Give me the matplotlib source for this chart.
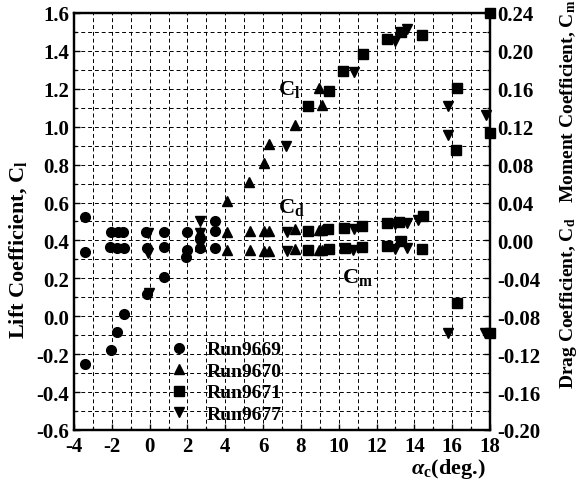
import numpy as np
import matplotlib
matplotlib.use('Agg')
import matplotlib.pyplot as plt
from matplotlib.ticker import MultipleLocator, FuncFormatter

plt.rcParams['font.family'] = ['Liberation Serif', 'DejaVu Serif']
plt.rcParams['font.weight'] = 'bold'
plt.rcParams['axes.unicode_minus'] = False
plt.rcParams['mathtext.fontset'] = 'custom'
plt.rcParams['mathtext.rm'] = 'Liberation Serif:bold'
plt.rcParams['mathtext.it'] = 'Liberation Serif:italic:bold'
plt.rcParams['mathtext.bf'] = 'Liberation Serif:bold'

# Run9669 (circles)
a9669_cl = [-3.4, -2.05, -1.75, -1.35, -0.15, 0.75, 1.9, 2.65, 3.45]
cl9669 = [-0.25, -0.18, -0.085, 0.01, 0.115, 0.205, 0.31, 0.41, 0.50]
a9669_cd = [-3.4, -2.05, -1.7, -1.4, -0.2, 0.75, 1.95, 3.45]
cd9669 = [0.025, 0.009, 0.009, 0.009, 0.009, 0.009, 0.009, 0.0096]
a9669_cm = [-3.4, -2.1, -1.75, -1.35, -0.15, 0.75, 1.95, 2.65, 3.45]
cm9669 = [-0.012, -0.007, -0.008, -0.008, -0.008, -0.007, -0.010, -0.008, -0.008]

# Run9670 (up triangles)
a9670_cl = [4.08, 5.27, 6.03, 6.3, 7.7, 8.95, 9.14]
cl9670 = [0.607, 0.708, 0.81, 0.908, 1.009, 1.203, 1.115]
a9670_cd = [2.65, 4.1, 5.3, 6.03, 6.3, 7.7, 8.93, 9.14]
cd9670 = [0.009, 0.009, 0.010, 0.010, 0.010, 0.012, 0.011, 0.011]
a9670_cm = [2.65, 4.1, 5.3, 6.03, 6.3, 7.7, 8.93, 9.14]
cm9670 = [-0.006, -0.010, -0.010, -0.011, -0.011, -0.009, -0.010, -0.010]

# Run9671 (squares)
a9671_cl = [8.35, 9.5, 10.25, 11.27, 12.55, 13.3, 14.4, 16.2, 18.0]
cl9671 = [1.11, 1.19, 1.295, 1.385, 1.462, 1.50, 1.485, 0.875, 0.968]
a9671_cd = [8.35, 9.45, 10.3, 11.25, 12.55, 13.2, 14.45, 16.25, 18.0]
cd9671 = [0.010, 0.0124, 0.013, 0.015, 0.018, 0.019, 0.0254, 0.161, 0.24]
a9671_cm = [8.35, 9.5, 10.34, 11.25, 12.55, 13.3, 14.4, 16.25, 18.0]
cm9671 = [-0.010, -0.009, -0.008, -0.007, -0.006, -0.001, -0.009, -0.066, -0.098]

# Run9677 (down triangles)
a9677_cl = [-0.05, 2.65, 7.2, 10.8, 12.98, 13.6, 15.8, 17.8]
cl9677 = [0.12, 0.50, 0.898, 1.29, 1.45, 1.515, 0.955, 1.06]
a9677_cd = [-0.1, 2.65, 7.25, 10.8, 12.95, 13.6, 14.2, 15.8]
cd9677 = [0.008, 0.008, 0.009, 0.0116, 0.017, 0.018, 0.022, 0.142]
a9677_cm = [-0.1, 2.65, 7.25, 10.78, 12.95, 13.6, 15.8, 17.75]
cm9677 = [-0.0134, -0.004, -0.011, -0.010, -0.0086, -0.008, -0.098, -0.098]

runs = ['Run9669', 'Run9670', 'Run9671', 'Run9677']
markers = ['o', '^', 's', 'v']

fig = plt.figure(figsize=(5.86, 4.81), dpi=100)
ax = fig.add_axes([0.1263, 0.104, 0.7099, 0.867])
ax2 = ax.twinx()

ms = 7
series = [
    (a9669_cl, cl9669, a9669_cd, cd9669, a9669_cm, cm9669),
    (a9670_cl, cl9670, a9670_cd, cd9670, a9670_cm, cm9670),
    (a9671_cl, cl9671, a9671_cd, cd9671, a9671_cm, cm9671),
    (a9677_cl, cl9677, a9677_cd, cd9677, a9677_cm, cm9677),
]
for (acl, cl, acd, cd, acm, cm), name, mk in zip(series, runs, markers):
    ax.plot(acl, cl, ls='none', marker=mk, ms=ms, color='k', label=name, clip_on=False)
    ax2.plot(acd, cd, ls='none', marker=mk, ms=ms, color='k', clip_on=False)
    ax2.plot(acm, cm, ls='none', marker=mk, ms=ms, color='k', clip_on=False)

ax.set_xlim(-4, 18)
ax.set_ylim(-0.6, 1.6)
ax2.set_ylim(-0.20, 0.24)

ax.xaxis.set_major_locator(MultipleLocator(2))
ax.xaxis.set_minor_locator(MultipleLocator(1))
ax.yaxis.set_major_locator(MultipleLocator(0.2))
ax.yaxis.set_minor_locator(MultipleLocator(0.1))
ax.yaxis.set_major_formatter(FuncFormatter(lambda v, p: '%.1f' % (round(v, 3) + 0.0)))
ax2.yaxis.set_major_locator(MultipleLocator(0.04))
ax2.yaxis.set_minor_locator(MultipleLocator(0.02))
ax2.yaxis.set_major_formatter(FuncFormatter(lambda v, p: '%.2f' % (round(v, 4) + 0.0)))

ax.grid(which='both', ls=(0, (4, 3)), lw=0.7, color='k')
ax.set_axisbelow(True)

for a in (ax, ax2):
    a.tick_params(which='major', direction='in', length=4, width=1, labelsize=15)
    a.tick_params(which='minor', direction='in', length=2, width=1)
    for s in a.spines.values():
        s.set_linewidth(1.6)
ax.tick_params(axis='x', pad=4.5)
ax2.tick_params(axis='y', pad=5)

ax.text(7.4, 1.2, r'$\mathrm{C}_\mathrm{l}$', fontsize=16, ha='center', va='center')
ax.text(7.5, 0.58, r'$\mathrm{C}_\mathrm{d}$', fontsize=16, ha='center', va='center')
ax.text(11.0, 0.21, r'$\mathrm{C}_\mathrm{m}$', fontsize=16, ha='center', va='center')

ax.legend(loc='upper left', bbox_to_anchor=(0.229, 0.214), frameon=False,
          handlelength=1.0, handletextpad=0.9, labelspacing=0.2, borderpad=0,
          borderaxespad=0, prop={'family': 'Liberation Serif', 'weight': 'bold', 'size': 14})

fig.text(0.031, 0.48, r'Lift Coefficient, C$_\mathrm{l}$', rotation=90, fontsize=16,
         ha='center', va='center')
fig.text(0.97, 0.79, r'Moment Coefficient, C$_\mathrm{m}$', rotation=90, fontsize=14,
         ha='center', va='center')
fig.text(0.97, 0.37, r'Drag Coefficient, C$_\mathrm{d}$', rotation=90, fontsize=14,
         ha='center', va='center')
fig.text(0.765, 0.024, r'$\alpha_\mathrm{c}$(deg.)', fontsize=16, ha='center', va='center')

fig.savefig('out.png', dpi=100)
